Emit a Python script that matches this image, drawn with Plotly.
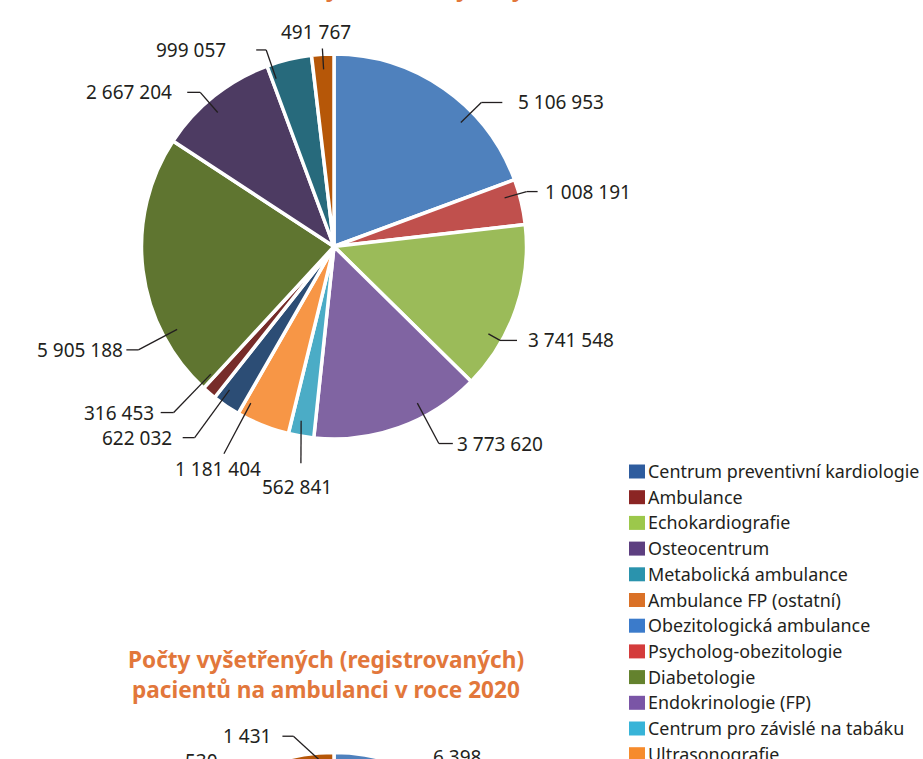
import math
import plotly.graph_objects as go

# ---------------- data ----------------
CATEGORIES = [
    "Obezitologická ambulance", "Psycholog-obezitologie", "Echokardiografie",
    "Endokrinologie (FP)", "Centrum pro závislé na tabáku", "Ultrasonografie",
    "Centrum preventivní kardiologie", "Ambulance", "Diabetologie",
    "Osteocentrum", "Metabolická ambulance", "Ambulance FP (ostatní)",
]
VALUES_1 = [5106953, 1008191, 3741548, 3773620, 562841, 1181404,
            622032, 316453, 5905188, 2667204, 999057, 491767]
# second chart (only its top edge is visible; hidden values estimated)
VALUES_2 = [6398, 1033, 3832, 3866, 577, 1210, 637, 324, 6050, 2732, 530, 1431]

SLICE_COLORS = ["#4F81BD", "#C0504D", "#9BBB59", "#8064A2", "#4BACC6", "#F79646",
                "#2C4D75", "#772C2A", "#5F7530", "#4D3B62", "#276A7C", "#B65708"]

LEGEND_LABELS = [
    "Centrum preventivní kardiologie", "Ambulance", "Echokardiografie",
    "Osteocentrum", "Metabolická ambulance", "Ambulance FP (ostatní)",
    "Obezitologická ambulance", "Psycholog-obezitologie", "Diabetologie",
    "Endokrinologie (FP)", "Centrum pro závislé na tabáku", "Ultrasonografie",
]
LEGEND_COLORS = ["#2E5C9E", "#8B2524", "#9CC84B", "#5D3F80", "#2A93AD", "#DA7127",
                 "#3B7BCB", "#D43C3C", "#64822E", "#7A55A6", "#38B4D8", "#F68B2C"]

TITLE_TOP = "na ambulanci vyšetření a výkony"
TITLE_2 = ["Počty vyšetřených (registrovaných)", "pacientů na ambulanci v roce 2020"]

# ---------------- layout constants ----------------
W, H = 923, 1140
TEXT = "#231F20"
ORANGE = "#E2773B"
FONT = "Noto Sans"
LBL_SIZE = 19

PIE1 = dict(cx=334, cy=246.5, r=192.5)
PIE2 = dict(cx=334, cy=945, r=192.5)

# label placement: (elbow angle offset from slice middle [deg], elbow radius factor,
#                   leader start angle offset [deg], style, style params)
#   "h": (horizontal segment length, gap to text)   "v": (text dx, text dy)
SPEC1 = [(10.8, 1.08, 10.8, "h", (21, 14)), (-2.5, 1.05, -2.5, "h", (11, 5)),
         (10.5, 1.0, 10.5, "h", (17, 9)), (-8.3, 1.17, -8.3, "h", (14, 2)),
         (-1.2, 1.15, 0.8, "v", (-4, 24)), (6.2, 1.23, 6.2, "v", (-6, 15)),
         (2, 1.24, 2, "h", (12, 9)), (3.5, 1.21, 3.5, "h", (13, 5)),
         (-20.8, 1.16, -20.8, "h", (12, 1)), (-2.4, 1.07, -2.4, "h", (13, 13)),
         (-5.5, 1.09, -5.5, "h", (10, 28)), (0, 1.04, 0, "v", (-6, -16))]
SPEC2 = [(-9.3, 1.08, -9.3, "v", (17, -11))] + [(0, 1.12, 0, "h", (13, 7))] * 8 + \
        [(-8, 1.12, -8, "h", (13, 7)),
         (-5.7, 1.08, -5.7, "h", (13, 7)), (-2, 1.115, 7, "h", (11, 9))]


def px(x):
    return x / W


def py(y):
    return 1 - y / H


def fmt(v):
    return f"{v:,}".replace(",", " ")


fig = go.Figure()
shapes, annos = [], []


def add_pie(values, geo):
    cx, cy, r = geo["cx"], geo["cy"], geo["r"]
    fig.add_trace(go.Pie(
        labels=CATEGORIES, values=values, sort=False, direction="clockwise",
        rotation=0, textinfo="none", showlegend=False, hoverinfo="label+value",
        marker=dict(colors=SLICE_COLORS, line=dict(color="white", width=3.5)),
        domain=dict(x=[px(cx - r), px(cx + r)], y=[py(cy + r), py(cy - r)]),
    ))


def seg(x0, y0, x1, y1):
    shapes.append(dict(type="line", xref="paper", yref="paper",
                       x0=px(x0), y0=py(y0), x1=px(x1), y1=py(y1),
                       line=dict(color=TEXT, width=1.3)))


def label(x, y, text, xanchor):
    annos.append(dict(x=px(x), y=py(y), xref="paper", yref="paper", text=text,
                      showarrow=False, xanchor=xanchor, yanchor="middle",
                      font=dict(family=FONT, size=LBL_SIZE, color=TEXT)))


def add_labels(values, geo, specs):
    cx, cy, R = geo["cx"], geo["cy"], geo["r"] - 1.75
    total = sum(values)
    cum = 0
    for v, (de, re, ds, style, prm) in zip(values, specs):
        mid = (cum + v / 2) / total * 360
        cum += v
        te, ts = math.radians(mid + de), math.radians(mid + ds)
        sx, sy = cx + 0.93 * R * math.sin(ts), cy - 0.93 * R * math.cos(ts)
        ex, ey = cx + re * R * math.sin(te), cy - re * R * math.cos(te)
        seg(sx, sy, ex, ey)
        if style == "h":
            hl, gap = prm
            side = 1 if math.sin(te) > 0 else -1
            hx = ex + side * hl
            seg(ex, ey, hx, ey)
            label(hx + side * gap, ey, fmt(v), "left" if side > 0 else "right")
        else:
            dx, dy = prm
            label(ex + dx, ey + dy, fmt(v), "center")


add_pie(VALUES_1, PIE1)
add_pie(VALUES_2, PIE2)
add_labels(VALUES_1, PIE1, SPEC1)
add_labels(VALUES_2, PIE2, SPEC2)

# titles
annos.append(dict(x=px(340), y=py(-12), xref="paper", yref="paper", text=f"<b>{TITLE_TOP}</b>",
                  showarrow=False, xanchor="center", yanchor="middle",
                  font=dict(family=FONT, size=22.6, color=ORANGE)))
for i, line in enumerate(TITLE_2):
    annos.append(dict(x=px(326), y=py(659 + 30 * i), xref="paper", yref="paper",
                      text=f"<b>{line}</b>", showarrow=False, xanchor="center",
                      yanchor="middle", font=dict(family=FONT, size=22.6, color=ORANGE)))

# legend
for i, (lab, col) in enumerate(zip(LEGEND_LABELS, LEGEND_COLORS)):
    yc = 471.5 + 25.7 * i
    shapes.append(dict(type="rect", xref="paper", yref="paper",
                       x0=px(629), x1=px(645), y0=py(yc - 7), y1=py(yc + 7),
                       fillcolor=col, line=dict(width=0)))
    annos.append(dict(x=px(646), y=py(yc - 0.5), xref="paper", yref="paper", text=lab,
                      showarrow=False, xanchor="left", yanchor="middle",
                      font=dict(family=FONT, size=17.9, color=TEXT)))

fig.update_layout(width=W, height=H, margin=dict(l=0, r=0, t=0, b=0),
                  paper_bgcolor="white", plot_bgcolor="white", showlegend=False,
                  shapes=shapes, annotations=annos)

fig.write_html("out.html", config={"displayModeBar": False},
               post_script="document.body.style.margin='0px';"
                           "document.body.style.overflow='hidden';")
